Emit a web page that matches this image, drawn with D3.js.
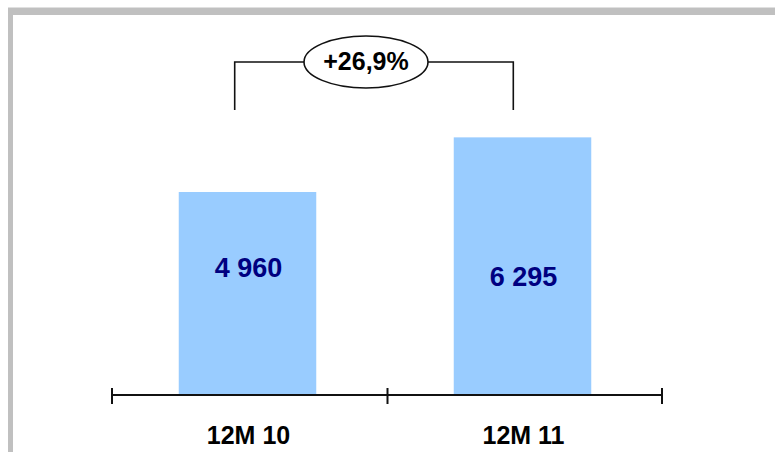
<!DOCTYPE html>
<html>
<head>
<meta charset="utf-8">
<script src="https://cdn.jsdelivr.net/npm/d3@7/dist/d3.min.js"></script>
<style>
html,body{margin:0;padding:0;background:#fff;}
svg{display:block;}
text{font-family:"Liberation Sans",Arial,sans-serif;font-weight:bold;}
</style>
</head>
<body>
<svg id="chart" width="775" height="452"></svg>
<script>
const categories = ["12M 10", "12M 11"];
const values = [4960, 6295];
const valueLabels = ["4 960", "6 295"];
const growthLabel = "+26,9%";

const svg = d3.select("#chart");
const W = 775, H = 452;

// frame
svg.append("rect").attr("x", 8).attr("y", 8).attr("width", W - 8).attr("height", 7).attr("fill", "#c0c0c0");
svg.append("rect").attr("x", 8).attr("y", 8).attr("width", 5).attr("height", H - 8).attr("fill", "#c0c0c0");
svg.append("rect").attr("x", 8).attr("y", 7).attr("width", W - 8).attr("height", 1).attr("fill", "#e0e0e0");

const axisY = 395;
const x = d3.scaleBand().domain(categories).range([110, 660]).paddingInner(0.5).paddingOuter(0.25);
const y = d3.scaleLinear().domain([0, 7000]).range([axisY, axisY - 7000 * 203 / 4960]);

// bars
svg.selectAll("rect.bar").data(values).enter().append("rect")
  .attr("class", "bar")
  .attr("x", (d, i) => x(categories[i]))
  .attr("width", x.bandwidth())
  .attr("y", d => y(d))
  .attr("height", d => y(0) - y(d))
  .attr("fill", "#99ccff");

// axis
const axisG = svg.append("g").attr("transform", `translate(0,${axisY})`);
axisG.append("line").attr("x1", 112).attr("x2", 662).attr("y1", 0).attr("y2", 0)
  .attr("stroke", "#111").attr("stroke-width", 2.2);
const tickXs = [112, 387.5, 662];
axisG.selectAll("line.tick").data(tickXs).enter().append("line")
  .attr("x1", d => d).attr("x2", d => d).attr("y1", -7).attr("y2", 9)
  .attr("stroke", "#111").attr("stroke-width", 2);

// category labels
svg.selectAll("text.cat").data(categories).enter().append("text")
  .attr("x", d => x(d) + x.bandwidth() / 2 + 1)
  .attr("y", 444)
  .attr("text-anchor", "middle")
  .attr("font-size", 25)
  .attr("fill", "#000")
  .text(d => d);

// value labels
const labelOffsets = [85, 149];
svg.selectAll("text.val").data(values).enter().append("text")
  .attr("x", (d, i) => x(categories[i]) + x.bandwidth() / 2 + 1)
  .attr("y", (d, i) => y(d) + labelOffsets[i])
  .attr("text-anchor", "middle")
  .attr("font-size", 27)
  .attr("fill", "#000080")
  .text((d, i) => valueLabels[i]);

// growth bracket
const bx1 = x(categories[0]) + x.bandwidth() / 2 - 12.8;
const bx2 = x(categories[1]) + x.bandwidth() / 2 - 9.2;
const bTop = 62, bBottom = 110;
svg.append("path")
  .attr("d", `M${bx1},${bBottom}V${bTop}H${bx2}V${bBottom}`)
  .attr("fill", "none").attr("stroke", "#111").attr("stroke-width", 1.6);
const ecx = (bx1 + bx2) / 2 - 8;
svg.append("ellipse").attr("cx", ecx).attr("cy", bTop).attr("rx", 62).attr("ry", 26)
  .attr("fill", "#fff").attr("stroke", "#111").attr("stroke-width", 1.6);
svg.append("text").attr("x", ecx).attr("y", 70).attr("text-anchor", "middle")
  .attr("font-size", 25).attr("fill", "#000").text(growthLabel);
</script>
</body>
</html>
